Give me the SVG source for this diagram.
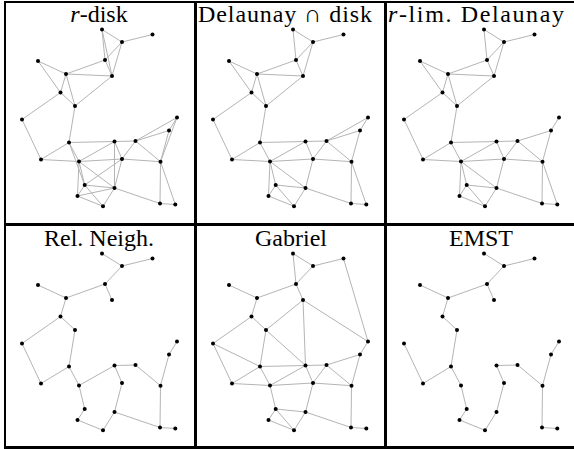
<svg xmlns="http://www.w3.org/2000/svg" width="574" height="449" viewBox="0 0 574 449">
<style>
.e line{stroke:#b4b4b4;stroke-width:1;fill:none}
.n circle{fill:#000}
.f{stroke:#000;fill:none}
.t{font-family:'Liberation Serif','Times New Roman',serif;font-size:24px;fill:#000;text-anchor:middle}
</style>
<rect x="0" y="0" width="574" height="449" fill="#fff"/>
<g id="frame">
<line class="f" x1="5" y1="1" x2="5" y2="449" stroke-width="2"/>
<line class="f" x1="4" y1="2" x2="574" y2="2" stroke-width="2"/>
<line class="f" x1="195.5" y1="1" x2="195.5" y2="449" stroke-width="3"/>
<line class="f" x1="385.5" y1="1" x2="385.5" y2="449" stroke-width="3"/>
<line class="f" x1="4" y1="224.5" x2="574" y2="224.5" stroke-width="3"/>
<line class="f" x1="4" y1="447.5" x2="574" y2="447.5" stroke-width="3"/>
</g>
<g id="titles">
<text class="t" x="99" y="22"><tspan style="font-style:italic">r</tspan>-disk</text>
<text class="t" x="285" y="22" textLength="174" lengthAdjust="spacing">Delaunay ∩ disk</text>
<text class="t" x="476" y="22" textLength="176" lengthAdjust="spacing"><tspan style="font-style:italic">r</tspan>-lim. Delaunay</text>
<text class="t" x="99" y="246">Rel. Neigh.</text>
<text class="t" x="291" y="246">Gabriel</text>
<text class="t" x="481" y="246">EMST</text>
</g>
<!-- Panel A: r-disk -->
<g id="panelA" transform="translate(0,0)">
<g class="e" id="edgesA">
<line x1="102" y1="29.5" x2="122" y2="42"/>
<line x1="102" y1="29.5" x2="105" y2="60"/>
<line x1="102" y1="29.5" x2="112" y2="76"/>
<line x1="152.5" y1="34.5" x2="122" y2="42"/>
<line x1="122" y1="42" x2="105" y2="60"/>
<line x1="122" y1="42" x2="112" y2="76"/>
<line x1="38" y1="61" x2="66" y2="74"/>
<line x1="38" y1="61" x2="60.5" y2="92.5"/>
<line x1="105" y1="60" x2="66" y2="74"/>
<line x1="105" y1="60" x2="112" y2="76"/>
<line x1="66" y1="74" x2="112" y2="76"/>
<line x1="66" y1="74" x2="60.5" y2="92.5"/>
<line x1="66" y1="74" x2="75" y2="106"/>
<line x1="112" y1="76" x2="75" y2="106"/>
<line x1="60.5" y1="92.5" x2="75" y2="106"/>
<line x1="60.5" y1="92.5" x2="22" y2="119.5"/>
<line x1="75" y1="106" x2="69" y2="142.5"/>
<line x1="22" y1="119.5" x2="41" y2="159.5"/>
<line x1="177" y1="117.5" x2="169" y2="130.5"/>
<line x1="177" y1="117.5" x2="135.5" y2="141"/>
<line x1="177" y1="117.5" x2="160.5" y2="161.7"/>
<line x1="169" y1="130.5" x2="135.5" y2="141"/>
<line x1="169" y1="130.5" x2="160.5" y2="161.7"/>
<line x1="69" y1="142.5" x2="114.5" y2="141.5"/>
<line x1="69" y1="142.5" x2="41" y2="159.5"/>
<line x1="69" y1="142.5" x2="79" y2="161.5"/>
<line x1="69" y1="142.5" x2="84.7" y2="185"/>
<line x1="114.5" y1="141.5" x2="135.5" y2="141"/>
<line x1="114.5" y1="141.5" x2="79" y2="161.5"/>
<line x1="114.5" y1="141.5" x2="122" y2="159"/>
<line x1="114.5" y1="141.5" x2="114.5" y2="188"/>
<line x1="135.5" y1="141" x2="122" y2="159"/>
<line x1="135.5" y1="141" x2="160.5" y2="161.7"/>
<line x1="41" y1="159.5" x2="79" y2="161.5"/>
<line x1="79" y1="161.5" x2="122" y2="159"/>
<line x1="79" y1="161.5" x2="84.7" y2="185"/>
<line x1="79" y1="161.5" x2="114.5" y2="188"/>
<line x1="79" y1="161.5" x2="77.5" y2="196"/>
<line x1="122" y1="159" x2="160.5" y2="161.7"/>
<line x1="122" y1="159" x2="84.7" y2="185"/>
<line x1="122" y1="159" x2="114.5" y2="188"/>
<line x1="160.5" y1="161.7" x2="160" y2="203.5"/>
<line x1="160.5" y1="161.7" x2="175.3" y2="204.5"/>
<line x1="84.7" y1="185" x2="114.5" y2="188"/>
<line x1="84.7" y1="185" x2="77.5" y2="196"/>
<line x1="84.7" y1="185" x2="103" y2="206.3"/>
<line x1="114.5" y1="188" x2="77.5" y2="196"/>
<line x1="114.5" y1="188" x2="103" y2="206.3"/>
<line x1="114.5" y1="188" x2="160" y2="203.5"/>
<line x1="77.5" y1="196" x2="103" y2="206.3"/>
<line x1="160" y1="203.5" x2="175.3" y2="204.5"/>
</g>
<g class="n">
<g id="A0"><circle cx="102" cy="29.5" r="2"/></g>
<g id="A1"><circle cx="152.5" cy="34.5" r="2"/></g>
<g id="A2"><circle cx="122" cy="42" r="2"/></g>
<g id="A3"><circle cx="38" cy="61" r="2"/></g>
<g id="A4"><circle cx="105" cy="60" r="2"/></g>
<g id="A5"><circle cx="66" cy="74" r="2"/></g>
<g id="A6"><circle cx="112" cy="76" r="2"/></g>
<g id="A7"><circle cx="60.5" cy="92.5" r="2"/></g>
<g id="A8"><circle cx="75" cy="106" r="2"/></g>
<g id="A9"><circle cx="22" cy="119.5" r="2"/></g>
<g id="A10"><circle cx="177" cy="117.5" r="2"/></g>
<g id="A11"><circle cx="169" cy="130.5" r="2"/></g>
<g id="A12"><circle cx="69" cy="142.5" r="2"/></g>
<g id="A13"><circle cx="114.5" cy="141.5" r="2"/></g>
<g id="A14"><circle cx="135.5" cy="141" r="2"/></g>
<g id="A15"><circle cx="41" cy="159.5" r="2"/></g>
<g id="A16"><circle cx="79" cy="161.5" r="2"/></g>
<g id="A17"><circle cx="122" cy="159" r="2"/></g>
<g id="A18"><circle cx="160.5" cy="161.7" r="2"/></g>
<g id="A19"><circle cx="84.7" cy="185" r="2"/></g>
<g id="A20"><circle cx="114.5" cy="188" r="2"/></g>
<g id="A21"><circle cx="77.5" cy="196" r="2"/></g>
<g id="A22"><circle cx="103" cy="206.3" r="2"/></g>
<g id="A23"><circle cx="160" cy="203.5" r="2"/></g>
<g id="A24"><circle cx="175.3" cy="204.5" r="2"/></g>
</g>
</g>
<!-- Panel B: Delaunay ∩ disk -->
<g id="panelB" transform="translate(191,0)">
<g class="e" id="edgesB">
<line x1="102" y1="29.5" x2="122" y2="42"/>
<line x1="102" y1="29.5" x2="105" y2="60"/>
<line x1="152.5" y1="34.5" x2="122" y2="42"/>
<line x1="122" y1="42" x2="105" y2="60"/>
<line x1="122" y1="42" x2="112" y2="76"/>
<line x1="105" y1="60" x2="112" y2="76"/>
<line x1="105" y1="60" x2="66" y2="74"/>
<line x1="38" y1="61" x2="66" y2="74"/>
<line x1="38" y1="61" x2="60.5" y2="92.5"/>
<line x1="66" y1="74" x2="112" y2="76"/>
<line x1="66" y1="74" x2="60.5" y2="92.5"/>
<line x1="66" y1="74" x2="75" y2="106"/>
<line x1="112" y1="76" x2="75" y2="106"/>
<line x1="60.5" y1="92.5" x2="75" y2="106"/>
<line x1="60.5" y1="92.5" x2="22" y2="119.5"/>
<line x1="75" y1="106" x2="69" y2="142.5"/>
<line x1="22" y1="119.5" x2="41" y2="159.5"/>
<line x1="69" y1="142.5" x2="41" y2="159.5"/>
<line x1="69" y1="142.5" x2="114.5" y2="141.5"/>
<line x1="69" y1="142.5" x2="79" y2="161.5"/>
<line x1="41" y1="159.5" x2="79" y2="161.5"/>
<line x1="114.5" y1="141.5" x2="79" y2="161.5"/>
<line x1="114.5" y1="141.5" x2="135.5" y2="141"/>
<line x1="114.5" y1="141.5" x2="122" y2="159"/>
<line x1="135.5" y1="141" x2="122" y2="159"/>
<line x1="135.5" y1="141" x2="160.5" y2="161.7"/>
<line x1="177" y1="117.5" x2="135.5" y2="141"/>
<line x1="177" y1="117.5" x2="169" y2="130.5"/>
<line x1="169" y1="130.5" x2="135.5" y2="141"/>
<line x1="169" y1="130.5" x2="160.5" y2="161.7"/>
<line x1="79" y1="161.5" x2="122" y2="159"/>
<line x1="122" y1="159" x2="160.5" y2="161.7"/>
<line x1="122" y1="159" x2="114.5" y2="188"/>
<line x1="79" y1="161.5" x2="84.7" y2="185"/>
<line x1="79" y1="161.5" x2="77.5" y2="196"/>
<line x1="79" y1="161.5" x2="114.5" y2="188"/>
<line x1="84.7" y1="185" x2="114.5" y2="188"/>
<line x1="84.7" y1="185" x2="103" y2="206.3"/>
<line x1="77.5" y1="196" x2="103" y2="206.3"/>
<line x1="84.7" y1="185" x2="77.5" y2="196"/>
<line x1="114.5" y1="188" x2="103" y2="206.3"/>
<line x1="114.5" y1="188" x2="160" y2="203.5"/>
<line x1="160.5" y1="161.7" x2="160" y2="203.5"/>
<line x1="160.5" y1="161.7" x2="175.3" y2="204.5"/>
<line x1="160" y1="203.5" x2="175.3" y2="204.5"/>
</g>
<g class="n">
<g id="B0"><circle cx="102" cy="29.5" r="2"/></g>
<g id="B1"><circle cx="152.5" cy="34.5" r="2"/></g>
<g id="B2"><circle cx="122" cy="42" r="2"/></g>
<g id="B3"><circle cx="38" cy="61" r="2"/></g>
<g id="B4"><circle cx="105" cy="60" r="2"/></g>
<g id="B5"><circle cx="66" cy="74" r="2"/></g>
<g id="B6"><circle cx="112" cy="76" r="2"/></g>
<g id="B7"><circle cx="60.5" cy="92.5" r="2"/></g>
<g id="B8"><circle cx="75" cy="106" r="2"/></g>
<g id="B9"><circle cx="22" cy="119.5" r="2"/></g>
<g id="B10"><circle cx="177" cy="117.5" r="2"/></g>
<g id="B11"><circle cx="169" cy="130.5" r="2"/></g>
<g id="B12"><circle cx="69" cy="142.5" r="2"/></g>
<g id="B13"><circle cx="114.5" cy="141.5" r="2"/></g>
<g id="B14"><circle cx="135.5" cy="141" r="2"/></g>
<g id="B15"><circle cx="41" cy="159.5" r="2"/></g>
<g id="B16"><circle cx="79" cy="161.5" r="2"/></g>
<g id="B17"><circle cx="122" cy="159" r="2"/></g>
<g id="B18"><circle cx="160.5" cy="161.7" r="2"/></g>
<g id="B19"><circle cx="84.7" cy="185" r="2"/></g>
<g id="B20"><circle cx="114.5" cy="188" r="2"/></g>
<g id="B21"><circle cx="77.5" cy="196" r="2"/></g>
<g id="B22"><circle cx="103" cy="206.3" r="2"/></g>
<g id="B23"><circle cx="160" cy="203.5" r="2"/></g>
<g id="B24"><circle cx="175.3" cy="204.5" r="2"/></g>
</g>
</g>
<!-- Panel C: r-lim. Delaunay -->
<g id="panelC" transform="translate(382,0)">
<g class="e" id="edgesC">
<line x1="102" y1="29.5" x2="122" y2="42"/>
<line x1="102" y1="29.5" x2="105" y2="60"/>
<line x1="152.5" y1="34.5" x2="122" y2="42"/>
<line x1="122" y1="42" x2="105" y2="60"/>
<line x1="122" y1="42" x2="112" y2="76"/>
<line x1="105" y1="60" x2="112" y2="76"/>
<line x1="105" y1="60" x2="66" y2="74"/>
<line x1="38" y1="61" x2="66" y2="74"/>
<line x1="38" y1="61" x2="60.5" y2="92.5"/>
<line x1="66" y1="74" x2="112" y2="76"/>
<line x1="66" y1="74" x2="60.5" y2="92.5"/>
<line x1="66" y1="74" x2="75" y2="106"/>
<line x1="112" y1="76" x2="75" y2="106"/>
<line x1="60.5" y1="92.5" x2="75" y2="106"/>
<line x1="60.5" y1="92.5" x2="22" y2="119.5"/>
<line x1="75" y1="106" x2="69" y2="142.5"/>
<line x1="22" y1="119.5" x2="41" y2="159.5"/>
<line x1="69" y1="142.5" x2="41" y2="159.5"/>
<line x1="69" y1="142.5" x2="114.5" y2="141.5"/>
<line x1="69" y1="142.5" x2="79" y2="161.5"/>
<line x1="41" y1="159.5" x2="79" y2="161.5"/>
<line x1="114.5" y1="141.5" x2="79" y2="161.5"/>
<line x1="114.5" y1="141.5" x2="135.5" y2="141"/>
<line x1="114.5" y1="141.5" x2="122" y2="159"/>
<line x1="135.5" y1="141" x2="122" y2="159"/>
<line x1="135.5" y1="141" x2="160.5" y2="161.7"/>
<line x1="177" y1="117.5" x2="169" y2="130.5"/>
<line x1="169" y1="130.5" x2="135.5" y2="141"/>
<line x1="169" y1="130.5" x2="160.5" y2="161.7"/>
<line x1="79" y1="161.5" x2="122" y2="159"/>
<line x1="122" y1="159" x2="160.5" y2="161.7"/>
<line x1="122" y1="159" x2="114.5" y2="188"/>
<line x1="79" y1="161.5" x2="84.7" y2="185"/>
<line x1="79" y1="161.5" x2="77.5" y2="196"/>
<line x1="79" y1="161.5" x2="114.5" y2="188"/>
<line x1="84.7" y1="185" x2="114.5" y2="188"/>
<line x1="84.7" y1="185" x2="103" y2="206.3"/>
<line x1="77.5" y1="196" x2="103" y2="206.3"/>
<line x1="84.7" y1="185" x2="77.5" y2="196"/>
<line x1="114.5" y1="188" x2="103" y2="206.3"/>
<line x1="114.5" y1="188" x2="160" y2="203.5"/>
<line x1="160.5" y1="161.7" x2="160" y2="203.5"/>
<line x1="160.5" y1="161.7" x2="175.3" y2="204.5"/>
<line x1="160" y1="203.5" x2="175.3" y2="204.5"/>
</g>
<g class="n">
<g id="C0"><circle cx="102" cy="29.5" r="2"/></g>
<g id="C1"><circle cx="152.5" cy="34.5" r="2"/></g>
<g id="C2"><circle cx="122" cy="42" r="2"/></g>
<g id="C3"><circle cx="38" cy="61" r="2"/></g>
<g id="C4"><circle cx="105" cy="60" r="2"/></g>
<g id="C5"><circle cx="66" cy="74" r="2"/></g>
<g id="C6"><circle cx="112" cy="76" r="2"/></g>
<g id="C7"><circle cx="60.5" cy="92.5" r="2"/></g>
<g id="C8"><circle cx="75" cy="106" r="2"/></g>
<g id="C9"><circle cx="22" cy="119.5" r="2"/></g>
<g id="C10"><circle cx="177" cy="117.5" r="2"/></g>
<g id="C11"><circle cx="169" cy="130.5" r="2"/></g>
<g id="C12"><circle cx="69" cy="142.5" r="2"/></g>
<g id="C13"><circle cx="114.5" cy="141.5" r="2"/></g>
<g id="C14"><circle cx="135.5" cy="141" r="2"/></g>
<g id="C15"><circle cx="41" cy="159.5" r="2"/></g>
<g id="C16"><circle cx="79" cy="161.5" r="2"/></g>
<g id="C17"><circle cx="122" cy="159" r="2"/></g>
<g id="C18"><circle cx="160.5" cy="161.7" r="2"/></g>
<g id="C19"><circle cx="84.7" cy="185" r="2"/></g>
<g id="C20"><circle cx="114.5" cy="188" r="2"/></g>
<g id="C21"><circle cx="77.5" cy="196" r="2"/></g>
<g id="C22"><circle cx="103" cy="206.3" r="2"/></g>
<g id="C23"><circle cx="160" cy="203.5" r="2"/></g>
<g id="C24"><circle cx="175.3" cy="204.5" r="2"/></g>
</g>
</g>
<!-- Panel D: Rel. Neigh. -->
<g id="panelD" transform="translate(0,224)">
<g class="e" id="edgesD">
<line x1="102" y1="29.5" x2="122" y2="42"/>
<line x1="152.5" y1="34.5" x2="122" y2="42"/>
<line x1="122" y1="42" x2="105" y2="60"/>
<line x1="105" y1="60" x2="112" y2="76"/>
<line x1="105" y1="60" x2="66" y2="74"/>
<line x1="38" y1="61" x2="66" y2="74"/>
<line x1="66" y1="74" x2="60.5" y2="92.5"/>
<line x1="60.5" y1="92.5" x2="75" y2="106"/>
<line x1="60.5" y1="92.5" x2="22" y2="119.5"/>
<line x1="75" y1="106" x2="69" y2="142.5"/>
<line x1="22" y1="119.5" x2="41" y2="159.5"/>
<line x1="69" y1="142.5" x2="41" y2="159.5"/>
<line x1="69" y1="142.5" x2="79" y2="161.5"/>
<line x1="114.5" y1="141.5" x2="79" y2="161.5"/>
<line x1="79" y1="161.5" x2="84.7" y2="185"/>
<line x1="84.7" y1="185" x2="77.5" y2="196"/>
<line x1="77.5" y1="196" x2="103" y2="206.3"/>
<line x1="114.5" y1="188" x2="103" y2="206.3"/>
<line x1="122" y1="159" x2="114.5" y2="188"/>
<line x1="114.5" y1="141.5" x2="122" y2="159"/>
<line x1="114.5" y1="141.5" x2="135.5" y2="141"/>
<line x1="135.5" y1="141" x2="160.5" y2="161.7"/>
<line x1="169" y1="130.5" x2="160.5" y2="161.7"/>
<line x1="177" y1="117.5" x2="169" y2="130.5"/>
<line x1="160.5" y1="161.7" x2="160" y2="203.5"/>
<line x1="160" y1="203.5" x2="175.3" y2="204.5"/>
<line x1="114.5" y1="188" x2="160" y2="203.5"/>
</g>
<g class="n">
<g id="D0"><circle cx="102" cy="29.5" r="2"/></g>
<g id="D1"><circle cx="152.5" cy="34.5" r="2"/></g>
<g id="D2"><circle cx="122" cy="42" r="2"/></g>
<g id="D3"><circle cx="38" cy="61" r="2"/></g>
<g id="D4"><circle cx="105" cy="60" r="2"/></g>
<g id="D5"><circle cx="66" cy="74" r="2"/></g>
<g id="D6"><circle cx="112" cy="76" r="2"/></g>
<g id="D7"><circle cx="60.5" cy="92.5" r="2"/></g>
<g id="D8"><circle cx="75" cy="106" r="2"/></g>
<g id="D9"><circle cx="22" cy="119.5" r="2"/></g>
<g id="D10"><circle cx="177" cy="117.5" r="2"/></g>
<g id="D11"><circle cx="169" cy="130.5" r="2"/></g>
<g id="D12"><circle cx="69" cy="142.5" r="2"/></g>
<g id="D13"><circle cx="114.5" cy="141.5" r="2"/></g>
<g id="D14"><circle cx="135.5" cy="141" r="2"/></g>
<g id="D15"><circle cx="41" cy="159.5" r="2"/></g>
<g id="D16"><circle cx="79" cy="161.5" r="2"/></g>
<g id="D17"><circle cx="122" cy="159" r="2"/></g>
<g id="D18"><circle cx="160.5" cy="161.7" r="2"/></g>
<g id="D19"><circle cx="84.7" cy="185" r="2"/></g>
<g id="D20"><circle cx="114.5" cy="188" r="2"/></g>
<g id="D21"><circle cx="77.5" cy="196" r="2"/></g>
<g id="D22"><circle cx="103" cy="206.3" r="2"/></g>
<g id="D23"><circle cx="160" cy="203.5" r="2"/></g>
<g id="D24"><circle cx="175.3" cy="204.5" r="2"/></g>
</g>
</g>
<!-- Panel E: Gabriel -->
<g id="panelE" transform="translate(191,224)">
<g class="e" id="edgesE">
<line x1="102" y1="29.5" x2="122" y2="42"/>
<line x1="102" y1="29.5" x2="105" y2="60"/>
<line x1="152.5" y1="34.5" x2="122" y2="42"/>
<line x1="122" y1="42" x2="105" y2="60"/>
<line x1="152.5" y1="34.5" x2="177" y2="117.5"/>
<line x1="38" y1="61" x2="66" y2="74"/>
<line x1="105" y1="60" x2="66" y2="74"/>
<line x1="105" y1="60" x2="112" y2="76"/>
<line x1="66" y1="74" x2="60.5" y2="92.5"/>
<line x1="60.5" y1="92.5" x2="75" y2="106"/>
<line x1="112" y1="76" x2="75" y2="106"/>
<line x1="112" y1="76" x2="114.5" y2="141.5"/>
<line x1="112" y1="76" x2="177" y2="117.5"/>
<line x1="60.5" y1="92.5" x2="22" y2="119.5"/>
<line x1="75" y1="106" x2="69" y2="142.5"/>
<line x1="75" y1="106" x2="114.5" y2="141.5"/>
<line x1="22" y1="119.5" x2="69" y2="142.5"/>
<line x1="22" y1="119.5" x2="41" y2="159.5"/>
<line x1="69" y1="142.5" x2="41" y2="159.5"/>
<line x1="69" y1="142.5" x2="114.5" y2="141.5"/>
<line x1="69" y1="142.5" x2="79" y2="161.5"/>
<line x1="41" y1="159.5" x2="79" y2="161.5"/>
<line x1="114.5" y1="141.5" x2="79" y2="161.5"/>
<line x1="79" y1="161.5" x2="122" y2="159"/>
<line x1="114.5" y1="141.5" x2="135.5" y2="141"/>
<line x1="114.5" y1="141.5" x2="122" y2="159"/>
<line x1="135.5" y1="141" x2="122" y2="159"/>
<line x1="135.5" y1="141" x2="160.5" y2="161.7"/>
<line x1="169" y1="130.5" x2="135.5" y2="141"/>
<line x1="177" y1="117.5" x2="169" y2="130.5"/>
<line x1="169" y1="130.5" x2="160.5" y2="161.7"/>
<line x1="122" y1="159" x2="160.5" y2="161.7"/>
<line x1="160.5" y1="161.7" x2="160" y2="203.5"/>
<line x1="160" y1="203.5" x2="175.3" y2="204.5"/>
<line x1="122" y1="159" x2="114.5" y2="188"/>
<line x1="79" y1="161.5" x2="84.7" y2="185"/>
<line x1="84.7" y1="185" x2="114.5" y2="188"/>
<line x1="84.7" y1="185" x2="77.5" y2="196"/>
<line x1="84.7" y1="185" x2="103" y2="206.3"/>
<line x1="77.5" y1="196" x2="103" y2="206.3"/>
<line x1="114.5" y1="188" x2="103" y2="206.3"/>
<line x1="114.5" y1="188" x2="160" y2="203.5"/>
</g>
<g class="n">
<g id="E0"><circle cx="102" cy="29.5" r="2"/></g>
<g id="E1"><circle cx="152.5" cy="34.5" r="2"/></g>
<g id="E2"><circle cx="122" cy="42" r="2"/></g>
<g id="E3"><circle cx="38" cy="61" r="2"/></g>
<g id="E4"><circle cx="105" cy="60" r="2"/></g>
<g id="E5"><circle cx="66" cy="74" r="2"/></g>
<g id="E6"><circle cx="112" cy="76" r="2"/></g>
<g id="E7"><circle cx="60.5" cy="92.5" r="2"/></g>
<g id="E8"><circle cx="75" cy="106" r="2"/></g>
<g id="E9"><circle cx="22" cy="119.5" r="2"/></g>
<g id="E10"><circle cx="177" cy="117.5" r="2"/></g>
<g id="E11"><circle cx="169" cy="130.5" r="2"/></g>
<g id="E12"><circle cx="69" cy="142.5" r="2"/></g>
<g id="E13"><circle cx="114.5" cy="141.5" r="2"/></g>
<g id="E14"><circle cx="135.5" cy="141" r="2"/></g>
<g id="E15"><circle cx="41" cy="159.5" r="2"/></g>
<g id="E16"><circle cx="79" cy="161.5" r="2"/></g>
<g id="E17"><circle cx="122" cy="159" r="2"/></g>
<g id="E18"><circle cx="160.5" cy="161.7" r="2"/></g>
<g id="E19"><circle cx="84.7" cy="185" r="2"/></g>
<g id="E20"><circle cx="114.5" cy="188" r="2"/></g>
<g id="E21"><circle cx="77.5" cy="196" r="2"/></g>
<g id="E22"><circle cx="103" cy="206.3" r="2"/></g>
<g id="E23"><circle cx="160" cy="203.5" r="2"/></g>
<g id="E24"><circle cx="175.3" cy="204.5" r="2"/></g>
</g>
</g>
<!-- Panel F: EMST -->
<g id="panelF" transform="translate(382,224)">
<g class="e" id="edgesF">
<line x1="102" y1="29.5" x2="122" y2="42"/>
<line x1="152.5" y1="34.5" x2="122" y2="42"/>
<line x1="122" y1="42" x2="105" y2="60"/>
<line x1="105" y1="60" x2="112" y2="76"/>
<line x1="105" y1="60" x2="66" y2="74"/>
<line x1="38" y1="61" x2="66" y2="74"/>
<line x1="66" y1="74" x2="60.5" y2="92.5"/>
<line x1="60.5" y1="92.5" x2="75" y2="106"/>
<line x1="75" y1="106" x2="69" y2="142.5"/>
<line x1="22" y1="119.5" x2="41" y2="159.5"/>
<line x1="69" y1="142.5" x2="41" y2="159.5"/>
<line x1="69" y1="142.5" x2="79" y2="161.5"/>
<line x1="79" y1="161.5" x2="84.7" y2="185"/>
<line x1="84.7" y1="185" x2="77.5" y2="196"/>
<line x1="77.5" y1="196" x2="103" y2="206.3"/>
<line x1="114.5" y1="188" x2="103" y2="206.3"/>
<line x1="122" y1="159" x2="114.5" y2="188"/>
<line x1="114.5" y1="141.5" x2="122" y2="159"/>
<line x1="114.5" y1="141.5" x2="135.5" y2="141"/>
<line x1="135.5" y1="141" x2="160.5" y2="161.7"/>
<line x1="169" y1="130.5" x2="160.5" y2="161.7"/>
<line x1="177" y1="117.5" x2="169" y2="130.5"/>
<line x1="160.5" y1="161.7" x2="160" y2="203.5"/>
<line x1="160" y1="203.5" x2="175.3" y2="204.5"/>
</g>
<g class="n">
<g id="F0"><circle cx="102" cy="29.5" r="2"/></g>
<g id="F1"><circle cx="152.5" cy="34.5" r="2"/></g>
<g id="F2"><circle cx="122" cy="42" r="2"/></g>
<g id="F3"><circle cx="38" cy="61" r="2"/></g>
<g id="F4"><circle cx="105" cy="60" r="2"/></g>
<g id="F5"><circle cx="66" cy="74" r="2"/></g>
<g id="F6"><circle cx="112" cy="76" r="2"/></g>
<g id="F7"><circle cx="60.5" cy="92.5" r="2"/></g>
<g id="F8"><circle cx="75" cy="106" r="2"/></g>
<g id="F9"><circle cx="22" cy="119.5" r="2"/></g>
<g id="F10"><circle cx="177" cy="117.5" r="2"/></g>
<g id="F11"><circle cx="169" cy="130.5" r="2"/></g>
<g id="F12"><circle cx="69" cy="142.5" r="2"/></g>
<g id="F13"><circle cx="114.5" cy="141.5" r="2"/></g>
<g id="F14"><circle cx="135.5" cy="141" r="2"/></g>
<g id="F15"><circle cx="41" cy="159.5" r="2"/></g>
<g id="F16"><circle cx="79" cy="161.5" r="2"/></g>
<g id="F17"><circle cx="122" cy="159" r="2"/></g>
<g id="F18"><circle cx="160.5" cy="161.7" r="2"/></g>
<g id="F19"><circle cx="84.7" cy="185" r="2"/></g>
<g id="F20"><circle cx="114.5" cy="188" r="2"/></g>
<g id="F21"><circle cx="77.5" cy="196" r="2"/></g>
<g id="F22"><circle cx="103" cy="206.3" r="2"/></g>
<g id="F23"><circle cx="160" cy="203.5" r="2"/></g>
<g id="F24"><circle cx="175.3" cy="204.5" r="2"/></g>
</g>
</g>
</svg>
